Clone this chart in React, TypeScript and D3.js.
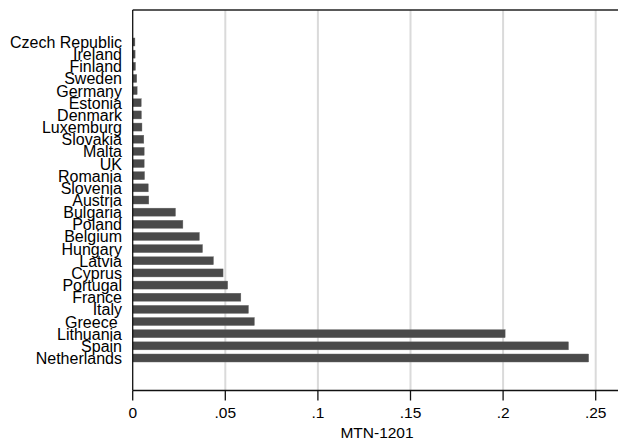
import React from "react";
import * as d3 from "d3";

const countries = [
  "Czech Republic", "Ireland", "Finland", "Sweden", "Germany", "Estonia",
  "Denmark", "Luxemburg", "Slovakia", "Malta", "UK", "Romania", "Slovenia",
  "Austria", "Bulgaria", "Poland", "Belgium", "Hungary", "Latvia", "Cyprus",
  "Portugal", "France", "Italy", "Greece ", "Lithuania", "Spain", "Netherlands",
];

const values = [
  0.0012, 0.0013, 0.0015, 0.0022, 0.0024, 0.0046,
  0.0047, 0.005, 0.006, 0.0062, 0.0062, 0.0064, 0.0084,
  0.0087, 0.0231, 0.0271, 0.036, 0.0377, 0.0436, 0.0488,
  0.0513, 0.0584, 0.0625, 0.0657, 0.2011, 0.2353, 0.2462,
];

const xTicks = [0, 0.05, 0.1, 0.15, 0.2, 0.25];
const xTickLabels = ["0", ".05", ".1", ".15", ".2", ".25"];
const xTitle = "MTN-1201";

const W = 618;
const H = 442;
const left = 132.7;
const right = 618;
const top = 10;
const bottom = 390.5;
const font = "'Liberation Sans', Arial, Helvetica, sans-serif";

export default function App() {
  const x = d3.scaleLinear().domain([0, 0.25]).range([left, 595.7]);
  const step = (358 - 42) / (countries.length - 1);
  const y = d3
    .scaleBand<string>()
    .domain(countries)
    .range([42 - step / 2, 358 + step / 2])
    .paddingInner(0.34)
    .paddingOuter(0.17);

  return (
    <svg
      width={W}
      height={H}
      style={{ position: "absolute", left: 0, top: 0, background: "#fff" }}
      fontFamily={font}
    >
      {/* vertical gridlines */}
      {xTicks.slice(1).map((t) => (
        <line
          key={"g" + t}
          x1={x(t)}
          x2={x(t)}
          y1={top}
          y2={bottom}
          stroke="#dadada"
          strokeWidth={2}
        />
      ))}

      {/* bars */}
      {countries.map((c, i) => (
        <rect
          key={c}
          x={x(0)}
          y={y(c)!}
          width={x(values[i]) - x(0)}
          height={y.bandwidth()}
          fill="#4a4a4a"
          stroke="#6a6a6a"
          strokeWidth={0.4}
        />
      ))}

      {/* frame: top border, left and bottom axes */}
      <line x1={left} x2={right} y1={top} y2={top} stroke="#222" strokeWidth={1.3} />
      <line x1={left} x2={left} y1={top} y2={bottom} stroke="#111" strokeWidth={1.3} />
      <line x1={left} x2={right} y1={bottom} y2={bottom} stroke="#111" strokeWidth={1.3} />

      {/* category labels */}
      {countries.map((c) => (
        <text
          key={"l" + c}
          x={122}
          y={y(c)! + y.bandwidth() / 2 + 6}
          textAnchor="end"
          fontSize={16}
          fill="#000"
          style={{ whiteSpace: "pre" }}
        >
          {c}
        </text>
      ))}

      {/* x ticks and labels */}
      {xTicks.map((t, i) => (
        <g key={"t" + t}>
          <line x1={x(t)} x2={x(t)} y1={bottom} y2={bottom + 10} stroke="#111" strokeWidth={1.3} />
          <text x={x(t)} y={418.3} textAnchor="middle" fontSize={15.5} fill="#000">
            {xTickLabels[i]}
          </text>
        </g>
      ))}

      <text x={377} y={438.3} textAnchor="middle" fontSize={15.5} fill="#000">
        {xTitle}
      </text>
    </svg>
  );
}
